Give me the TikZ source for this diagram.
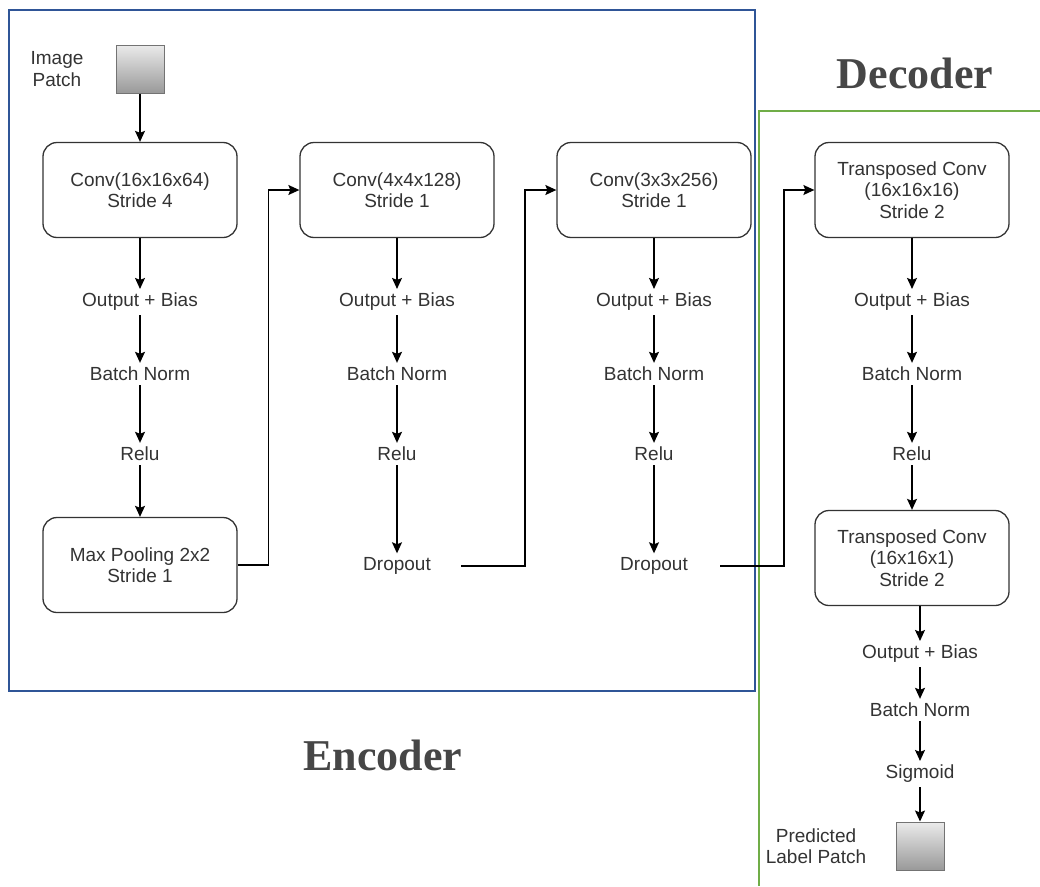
\documentclass[tikz,border=0pt]{standalone}
\usepackage{fontspec}
\setmainfont{Liberation Sans}
\newfontfamily\headfont{Liberation Serif}
\usetikzlibrary{arrows.meta}
\definecolor{encblue}{RGB}{47,85,151}
\definecolor{decgreen}{RGB}{112,173,71}
\definecolor{labelgray}{RGB}{51,51,51}
\definecolor{headgray}{RGB}{70,70,70}

\begin{document}
\begin{tikzpicture}[x=1pt, y=-1pt, font=\fontsize{19}{21.5}\selectfont, text=labelgray,
	layer/.style={draw=black!80, line width=1.3pt, rounded corners=14pt, minimum width=194pt, minimum height=95pt, align=center},
	stage/.style={inner sep=4pt},
	patch/.style={draw=black!55, line width=1pt, top color=black!8, bottom color=black!40, minimum size=48pt, inner sep=0pt},
	flow/.style={line width=1.3pt, -{Stealth[length=11pt, width=10pt, inset=2pt]}},
	heading/.style={font=\headfont\bfseries\fontsize{44}{50}\selectfont, text=headgray}]
	\useasboundingbox (0,0) rectangle (1040,886);

	% frames
	\draw[encblue, line width=2.5pt] (9,10) rectangle (755,691);
	\draw[decgreen, line width=2pt] (1040,111) -- (759,111) -- (759,886);
	\node[heading] (dectitle) at (915,73) {Decoder};
	\node[heading] (enctitle) at (383,755) {Encoder};

	% encoder, first column
	\node[patch] (inpatch) at (140,69) {};
	\node[align=center] (inlabel) at (57,69) {Image\\Patch};
	\node[layer] (conv1) at (140,190) {Conv(16x16x64)\\Stride 4};
	\node[stage] (ob1) at (140,302) {Output + Bias};
	\node[stage] (bn1) at (140,374) {Batch Norm};
	\node[stage] (relu1) at (140,454) {Relu};
	\node[layer] (pool) at (140,565) {Max Pooling 2x2\\Stride 1};

	% encoder, second column
	\node[layer] (conv2) at (397,190) {Conv(4x4x128)\\Stride 1};
	\node[stage] (ob2) at (397,302) {Output + Bias};
	\node[stage] (bn2) at (397,374) {Batch Norm};
	\node[stage] (relu2) at (397,454) {Relu};
	\node[stage] (drop2) at (397,566) {Dropout};

	% encoder, third column
	\node[layer] (conv3) at (654,190) {Conv(3x3x256)\\Stride 1};
	\node[stage] (ob3) at (654,302) {Output + Bias};
	\node[stage] (bn3) at (654,374) {Batch Norm};
	\node[stage] (relu3) at (654,454) {Relu};
	\node[stage] (drop3) at (654,566) {Dropout};

	% decoder
	\node[layer] (tconv1) at (912,190) {Transposed Conv\\(16x16x16)\\Stride 2};
	\node[stage] (ob4) at (912,302) {Output + Bias};
	\node[stage] (bn4) at (912,374) {Batch Norm};
	\node[stage] (relu4) at (912,454) {Relu};
	\node[layer] (tconv2) at (912,558) {Transposed Conv\\(16x16x1)\\Stride 2};
	\node[stage] (ob5) at (920,654) {Output + Bias};
	\node[stage] (bn5) at (920,710) {Batch Norm};
	\node[stage] (sig) at (920,774) {Sigmoid};
	\node[patch] (outpatch) at (920,846) {};
	\node[align=center] (outlabel) at (816,846) {Predicted\\Label Patch};

	\draw[flow] (inpatch) -- (conv1);
	\draw[flow] (conv1) -- (ob1);
	\draw[flow] (ob1) -- (bn1);
	\draw[flow] (bn1) -- (relu1);
	\draw[flow] (relu1) -- (pool);
	\draw[flow] (pool.east) -- ++(31,0) |- (conv2.west);

	\draw[flow] (conv2) -- (ob2);
	\draw[flow] (ob2) -- (bn2);
	\draw[flow] (bn2) -- (relu2);
	\draw[flow] (relu2) -- (drop2);
	\draw[flow] ([xshift=26pt]drop2.east) -- ++(64,0) |- (conv3.west);

	\draw[flow] (conv3) -- (ob3);
	\draw[flow] (ob3) -- (bn3);
	\draw[flow] (bn3) -- (relu3);
	\draw[flow] (relu3) -- (drop3);
	\draw[flow] ([xshift=28pt]drop3.east) -- ++(64,0) |- (tconv1.west);

	\draw[flow] (tconv1) -- (ob4);
	\draw[flow] (ob4) -- (bn4);
	\draw[flow] (bn4) -- (relu4);
	\draw[flow] (relu4) -- (tconv2);
	\draw[flow] (tconv2.south -| ob5) -- (ob5);
	\draw[flow] (ob5) -- (bn5);
	\draw[flow] (bn5) -- (sig);
	\draw[flow] (sig) -- (outpatch);

\end{tikzpicture}
\end{document}
